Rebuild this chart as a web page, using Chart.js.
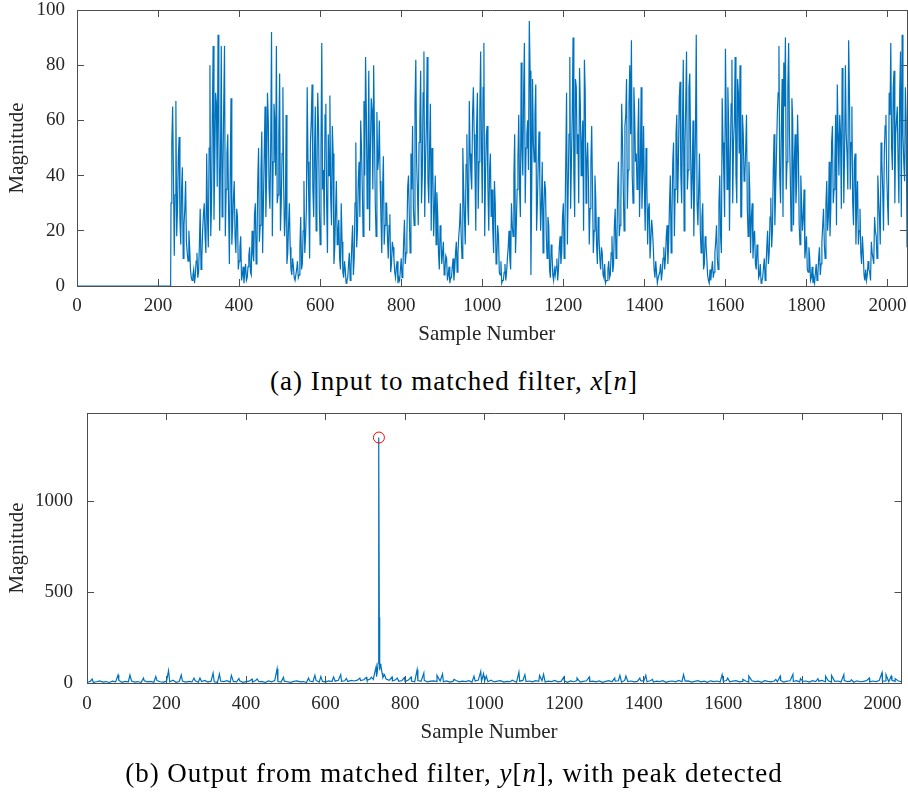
<!DOCTYPE html>
<html>
<head>
<meta charset="utf-8">
<script src="https://cdn.jsdelivr.net/npm/chart.js@4.4.1/dist/chart.umd.min.js"></script>
<style>
  html, body { margin: 0; padding: 0; background: #fff; }
  body { width: 908px; height: 794px; position: relative; overflow: hidden; }
  .plot { position: absolute; left: 0; width: 908px; height: 360px; }
  .caption {
    position: absolute; left: 0; width: 908px; text-align: center;
    font-family: "Liberation Serif", serif; font-size: 27px; line-height: 30px;
    letter-spacing: 1px; color: #000;
  }
</style>
</head>
<body>
<div class="plot" style="top:0"><canvas id="inputChart" width="908" height="360"></canvas></div>
<div class="caption" style="top:366px">(a) Input to matched filter, <i>x</i>[<i>n</i>]</div>
<div class="plot" style="top:400px"><canvas id="outputChart" width="908" height="360"></canvas></div>
<div class="caption" style="top:758px">(b) Output from matched filter, <i>y</i>[<i>n</i>], with peak detected</div>
<script>
// ---- data ----
const sampleTicks = [0, 200, 400, 600, 800, 1000, 1200, 1400, 1600, 1800, 2000];
const inputTicks = [0, 20, 40, 60, 80, 100];
const outputTicks = [0, 500, 1000];
const lastSample = 2048;

// x[n]: silent until the onset, then sampled every 2 (two interleaved lists)
const inputZeroN = [0, 231];
const inputOnset = 232;
const inputStep = 4;
// n = 232, 236, 240, ...
const inputMag = [
  30, 65, 11, 67, 28, 54, 15, 43, 22, 38, 12, 20, 6,
  2, 6, 4, 12, 5, 28, 10, 26, 18, 48, 14, 80, 30, 87, 45, 66, 91, 20, 87, 40, 87, 35, 55, 8, 68, 22, 38, 12, 25, 9, 18, 4,
  1, 8, 3, 11, 5, 20, 9, 30, 14, 50, 22, 56, 30, 65, 40, 60, 28, 92, 45, 60, 87, 33, 77, 30, 72, 18, 62, 12, 30, 6, 10, 3,
  2, 9, 4, 25, 8, 38, 18, 72, 30, 52, 73, 25, 65, 40, 58, 15, 88, 42, 62, 30, 55, 69, 22, 48, 14, 38, 20, 10, 30, 5, 9, 1,
  3, 12, 6, 22, 10, 52, 20, 45, 60, 35, 67, 83, 28, 78, 50, 64, 80, 30, 63, 46, 38, 12, 47, 22, 30, 10, 26, 8, 14, 5, 7, 1,
  2, 10, 5, 24, 12, 36, 25, 48, 58, 22, 82, 35, 52, 78, 40, 85, 45, 83, 30, 66, 50, 18, 40, 34, 12, 22, 8, 16, 6, 10, 4, 1,
  3, 10, 6, 16, 12, 22, 18, 50, 25, 44, 30, 67, 40, 62, 55, 20, 70, 45, 85, 30, 88, 40, 58, 20, 48, 35, 12, 30, 10, 18, 4, 1,
  2, 8, 5, 14, 10, 30, 18, 55, 22, 46, 35, 81, 40, 88, 50, 60, 96, 4, 75, 45, 73, 30, 56, 20, 45, 28, 35, 10, 22, 3, 12, 2,
  4, 10, 6, 18, 12, 30, 22, 70, 35, 83, 45, 90, 25, 72, 55, 79, 40, 60, 82, 30, 52, 15, 45, 35, 20, 32, 8, 18, 6, 12, 3, 1,
  2, 9, 4, 18, 8, 28, 14, 45, 22, 66, 35, 58, 75, 42, 80, 89, 30, 62, 48, 55, 25, 72, 40, 35, 50, 15, 30, 10, 20, 6, 9, 1,
  3, 8, 5, 14, 10, 22, 16, 40, 25, 52, 35, 62, 45, 74, 30, 82, 50, 85, 42, 77, 28, 60, 38, 91, 22, 48, 12, 30, 8, 15, 4, 1,
  2, 9, 5, 16, 10, 30, 18, 68, 40, 86, 35, 58, 45, 82, 52, 83, 30, 70, 80, 25, 55, 40, 62, 18, 35, 25, 10, 20, 6, 12, 4, 1,
  3, 10, 6, 20, 12, 32, 20, 55, 35, 62, 87, 30, 75, 81, 90, 45, 88, 40, 68, 22, 55, 38, 48, 15, 30, 25, 10, 18, 5, 10, 3, 1,
  1, 8, 4, 14, 8, 22, 15, 30, 20, 45, 28, 58, 35, 62, 73, 40, 55, 79, 30, 80, 48, 89, 35, 65, 22, 48, 30, 15, 28, 8, 12, 2,
  2, 9, 5, 16, 12, 25, 18, 40, 25, 52, 35, 48, 62, 30, 70, 88, 42, 78, 55, 65, 30, 85, 91, 45, 72, 14
];
// n = 234, 238, 242, ...
const inputMagOdd = [
  52, 40, 33, 18, 47, 24, 35, 10, 28, 16, 9, 14, 3,
  4, 1, 9, 3, 15, 6, 20, 30, 12, 25, 50, 18, 62, 24, 70, 36, 58, 44, 25, 65, 18, 48, 28, 40, 15, 32, 18, 28, 6, 14, 2, 7,
  5, 2, 7, 14, 4, 12, 26, 8, 38, 16, 42, 12, 48, 25, 70, 35, 52, 18, 66, 40, 30, 55, 20, 48, 36, 25, 8, 22, 14, 4, 7, 2,
  6, 3, 14, 6, 20, 12, 28, 45, 10, 60, 35, 48, 20, 70, 28, 50, 35, 22, 66, 12, 40, 32, 58, 8, 27, 15, 24, 6, 16, 3, 6, 2,
  8, 2, 15, 4, 30, 14, 38, 25, 50, 18, 40, 62, 45, 20, 68, 35, 55, 18, 42, 60, 25, 35, 15, 30, 18, 22, 5, 16, 10, 3, 9, 3,
  6, 3, 16, 8, 18, 40, 12, 35, 28, 66, 45, 22, 60, 30, 70, 25, 58, 38, 50, 20, 42, 28, 15, 26, 6, 18, 12, 4, 11, 2, 7, 3,
  7, 2, 12, 5, 18, 30, 10, 36, 15, 55, 22, 48, 35, 72, 42, 58, 28, 64, 50, 72, 18, 55, 35, 42, 25, 20, 38, 8, 22, 5, 9, 2,
  5, 2, 10, 20, 6, 22, 40, 12, 35, 62, 25, 50, 70, 30, 55, 42, 78, 35, 52, 62, 20, 45, 38, 30, 12, 38, 18, 25, 6, 15, 4, 6,
  7, 2, 14, 8, 25, 10, 45, 15, 55, 28, 62, 40, 75, 48, 30, 65, 52, 20, 70, 45, 38, 28, 58, 12, 40, 15, 25, 10, 14, 4, 8, 2,
  6, 3, 12, 5, 22, 10, 35, 18, 30, 52, 20, 62, 28, 66, 55, 40, 72, 45, 35, 68, 42, 28, 58, 20, 38, 28, 10, 24, 14, 3, 5, 3,
  5, 2, 10, 6, 18, 8, 30, 12, 45, 18, 55, 30, 68, 40, 58, 20, 66, 35, 72, 50, 40, 18, 55, 30, 35, 20, 25, 6, 18, 10, 2, 6,
  6, 3, 12, 22, 6, 40, 12, 52, 25, 60, 72, 20, 66, 30, 60, 40, 75, 48, 25, 62, 38, 50, 28, 45, 12, 30, 18, 8, 15, 3, 8, 2,
  7, 2, 14, 8, 25, 14, 42, 22, 48, 70, 40, 58, 25, 65, 35, 72, 55, 20, 60, 45, 30, 62, 22, 40, 20, 35, 14, 6, 14, 2, 7, 3,
  5, 2, 10, 4, 16, 28, 10, 38, 25, 18, 52, 30, 45, 22, 55, 62, 28, 65, 48, 55, 35, 70, 52, 30, 45, 15, 38, 20, 12, 18, 4, 6,
  4, 6, 2, 12, 8, 20, 10, 32, 15, 45, 20, 58, 40, 22, 62, 50, 72, 30, 60, 45, 70, 25, 55, 38, 60
];

// y[n]: noise floor every 8 samples, plus the spikes sticking out of it
const outputStep = 8;
const outputFloor = [
  4, 9, 3, 7, 12, 5, 8, 3, 10, 6, 14, 4, 9, 7, 11, 5,
  8, 3, 12, 6, 9, 4, 13, 7, 5, 10, 6, 15, 4, 8, 11, 5,
  9, 6, 12, 4, 8, 14, 5, 10, 7, 3, 11, 8, 13, 5, 9, 6,
  12, 4, 8, 10, 5, 14, 7, 9, 3, 11, 6, 13, 8, 5, 10, 7,
  4, 9, 12, 6, 8, 3, 11, 7, 14, 5, 9, 6, 12, 8, 10, 15,
  9, 12, 8, 14, 11, 16, 13, 18, 15, 22, 20, 35, 70, 30, 22, 15,
  12, 18, 9, 14, 8, 16, 11, 7, 13, 9, 15, 6, 10, 12, 8, 11,
  7, 12, 5, 9, 14, 6, 10, 8, 13, 5, 11, 16, 9, 12, 7, 15,
  6, 10, 13, 5, 9, 7, 12, 4, 10, 14, 8, 11, 6, 13, 9, 12,
  5, 10, 8, 14, 6, 9, 12, 4, 11, 7, 13, 5, 9, 12, 8, 10,
  6, 11, 4, 9, 13, 7, 10, 12, 5, 14, 8, 11, 6, 9, 13, 10,
  7, 12, 5, 10, 8, 13, 4, 9, 11, 6, 14, 7, 10, 12, 5, 9,
  13, 6, 10, 4, 12, 8, 11, 5, 9, 14, 7, 10, 13, 6, 9, 11,
  5, 12, 8, 10, 4, 13, 9, 6, 11, 7, 14, 5, 10, 12, 8, 13,
  6, 9, 11, 5, 13, 8, 10, 14, 7, 12, 5, 9, 11, 6, 13, 8,
  10, 4, 12, 7, 9, 13, 6, 11, 8, 14, 10, 12, 7, 15, 9, 11,
  8
];
const spikeN = [
  13, 78, 108, 142, 173, 205, 237, 269, 284, 317, 333, 363, 382, 415, 428, 478, 494,
  557, 573, 588, 620, 638, 652, 686, 702, 715, 722, 727, 730, 732, 733, 734, 735, 737,
  739, 742, 748, 767, 780, 798, 815, 830, 847, 880, 894, 923, 973, 990, 997, 1004,
  1069, 1086, 1101, 1138, 1148, 1199, 1232, 1263, 1327, 1340, 1355, 1390, 1405, 1422,
  1500, 1597, 1611, 1649, 1664, 1732, 1743, 1775, 1794, 1838, 1857, 1872, 1903, 1922,
  1967, 1999, 2009, 2022, 2032
];
const spikeMag = [
  22, 44, 44, 27, 36, 68, 44, 27, 27, 55, 49, 42, 25, 22, 22, 78, 31,
  27, 42, 36, 33, 46, 25, 27, 31, 32, 42, 90, 62, 110, 362, 1350, 362, 105,
  95, 55, 46, 33, 27, 30, 33, 73, 55, 42, 49, 20, 38, 64, 51, 38,
  15, 60, 46, 42, 48, 33, 27, 33, 27, 42, 38, 27, 42, 20,
  46, 46, 27, 20, 38, 20, 38, 48, 24, 24, 38, 42, 46, 18,
  27, 57, 46, 38, 24
];
const peakN = [734];
const peakMag = [1350];

// ---- build point lists ----
const byX = (a, b) => a.x - b.x;
const inputPts = inputZeroN.map(n => ({ x: n, y: 0 }))
  .concat(inputMag.map((v, i) => ({ x: inputOnset + i * inputStep, y: v })))
  .concat(inputMagOdd.map((v, i) => ({ x: inputOnset + 2 + i * inputStep, y: v })))
  .sort(byX);
const outputPts = outputFloor.map((v, i) => ({ x: i * outputStep, y: v }))
  .concat(spikeN.map((n, i) => ({ x: n, y: spikeMag[i] })))
  .sort(byX);
const peakPts = peakN.map((n, i) => ({ x: n, y: peakMag[i] }));

// ---- MATLAB-ish look ----
const AXIS = "#4d4d4d";
const TEXT = "#262626";
const BLUE = "#0072BD";
Chart.defaults.font.family = "'Liberation Serif', 'Times New Roman', serif";
Chart.defaults.color = TEXT;

function fixTicks(values) {
  return s => { s.ticks = values.map(v => ({ value: v })); };
}

function boxAxis(pos, min, max, ticks, o) {
  const horiz = pos === "bottom" || pos === "top";
  const main = pos === "bottom" || pos === "left";
  return {
    type: "linear", position: pos, min, max,
    afterBuildTicks: fixTicks(ticks),
    afterFit: s => {
      if (horiz) s.height = main ? o.size : 0; else s.width = main ? o.size : 0;
      // no extra room for overhanging end labels: the plot box is placed by hand
      s.paddingTop = 0; s.paddingBottom = 0; s.paddingLeft = 0; s.paddingRight = 0;
    },
    grid: { drawOnChartArea: false, drawTicks: true, tickLength: -7, color: AXIS, lineWidth: 1 },
    border: { display: true, color: AXIS, width: 1 },
    ticks: {
      display: main, padding: o.tickPad || 0, color: TEXT,
      font: { size: 19 }, maxRotation: 0, autoSkip: false,
      callback: v => String(v)
    },
    title: main ? {
      display: true, text: o.title, color: TEXT, font: { size: 21 },
      padding: o.titlePad
    } : { display: false }
  };
}

function makeChart(id, opts) {
  return new Chart(document.getElementById(id), {
    type: "line",
    data: { datasets: opts.datasets },
    options: {
      responsive: false, animation: false, events: [],
      layout: { padding: { top: opts.padTop, left: 0, right: 1, bottom: 0 } },
      plugins: { legend: { display: false }, tooltip: { enabled: false } },
      elements: { point: { radius: 0 }, line: { tension: 0 } },
      scales: {
        // trailing no-break spaces nudge the label a little left, as in the original
        x: boxAxis("bottom", 0, lastSample, sampleTicks,
          { size: opts.xSize, tickPad: opts.xTickPad, title: "Sample Number\u00a0\u00a0", titlePad: { top: 0, bottom: opts.xTitlePad } }),
        x2: boxAxis("top", 0, lastSample, sampleTicks, {}),
        y: boxAxis("left", 0, opts.yMax, opts.yTicks,
          { size: opts.ySize, tickPad: opts.yTickPad, title: "Magnitude", titlePad: { top: 5, bottom: 0 } }),
        y2: boxAxis("right", 0, opts.yMax, opts.yTicks, {})
      }
    }
  });
}

makeChart("inputChart", {
  padTop: 10, xSize: 74, ySize: 77, xTickPad: 16, yTickPad: 19, xTitlePad: 13,
  yMax: 100, yTicks: inputTicks,
  datasets: [{
    data: inputPts, borderColor: BLUE, borderWidth: 1.2, pointRadius: 0, fill: false
  }]
});

makeChart("outputChart", {
  padTop: 13, xSize: 77, ySize: 87, xTickPad: 17, yTickPad: 21, xTitlePad: 15,
  yMax: 1485, yTicks: outputTicks,
  datasets: [{
    type: "scatter", data: peakPts, showLine: false,
    pointStyle: "circle", pointRadius: 5.5, borderColor: "#ff0000",
    backgroundColor: "rgba(0,0,0,0)", borderWidth: 1
  }, {
    data: outputPts, borderColor: BLUE, borderWidth: 1.2, pointRadius: 0, fill: false
  }]
});
</script>
</body>
</html>
